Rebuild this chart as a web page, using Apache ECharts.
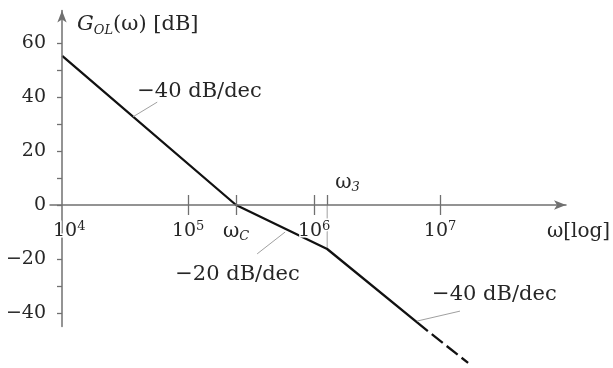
<!DOCTYPE html>
<html>
<head>
<meta charset="utf-8">
<script src="https://cdn.jsdelivr.net/npm/echarts@6/dist/echarts.min.js"></script>
<style>
  html, body { margin: 0; padding: 0; background: #fff; }
  #chart { width: 613px; height: 368px; }
</style>
</head>
<body>
<div id="chart"></div>
<script>
// Asymptotic open-loop magnitude: corner frequencies (rad/s) and gain (dB)
const omega = [1e4, 2.4e5, 1.27e6, 8.0e6];
const gainDb = [55.2, 0, -16.3, -46.7];
// continuation of the last asymptote, drawn dashed
const omegaExt = [8.0e6, 1.67e7];
const gainExt = [-46.7, -58.5];

const decades = [1e4, 1e5, 1e6, 1e7];
const gainLabels = [-40, -20, 0, 20, 40, 60];
const gainTicks = [-40, -30, -20, -10, 0, 10, 20, 30, 40, 50, 60];
const omegaC = omega[1];
const omega3 = omega[2];

// slope annotations: text anchor, leader start, leader end (omega, dB)
const slopeText = ['−40 dB/dec', '−20 dB/dec', '−40 dB/dec'];
const slopeTextAt = [[3.94e4, 42.0], [7.89e4, -25.7], [8.65e6, -33.3]];
const leaderFrom = [[3.66e4, 32.7], [5.89e5, -10.0], [6.56e6, -43.0]];
const leaderTo = [[5.68e4, 38.1], [3.53e5, -18.1], [1.44e7, -39.3]];

const X_MIN = 8000, X_MAX = 1e8;
const Y_MIN = -45, Y_MAX = 72;

// plot rectangle; both frequency axes are shifted onto the 0 dB line
const GRID = { left: 50, right: 47, top: 10.6, bottom: 41.5 };
const PLOT_H = 368 - GRID.top - GRID.bottom;
const ZERO_UP = (0 - Y_MIN) / (Y_MAX - Y_MIN) * PLOT_H;

const FONT = 'DejaVu Serif';
const INK = '#262626';
const AXIS = '#707070';
const LEADER = '#a0a0a0';

const richText = {
  n: { fontFamily: FONT, fontSize: 19, lineHeight: 23, color: INK },
  sup: { fontFamily: FONT, fontSize: 13, lineHeight: 13, verticalAlign: 'top', color: INK },
  w: { fontFamily: FONT, fontSize: 20, lineHeight: 23, color: INK },
  sub: { fontFamily: FONT, fontSize: 13, lineHeight: 12, fontStyle: 'italic', verticalAlign: 'bottom', color: INK },
  pad: { width: 14 }
};

function decadeLabel(v) {
  if (Math.abs(v - omegaC) / omegaC < 1e-6) return '{w|ω}{sub|C}';
  const e = Math.round(Math.log10(v));
  return (v === decades[0] ? '{pad|}' : '') + '{n|10}{sup|' + e + '}';
}

function gainLabel(v) {
  return v < 0 ? '−' + (-v) : String(v);
}

const chart = echarts.init(document.getElementById('chart'), null, { renderer: 'canvas' });

chart.setOption({
  animation: false,
  backgroundColor: '#fff',
  grid: Object.assign({ containLabel: false, outerBoundsMode: 'none' }, GRID),
  xAxis: [
    {
      type: 'log', logBase: 10, min: X_MIN, max: X_MAX, z: 5,
      position: 'bottom', offset: -ZERO_UP,
      name: 'ω[log]', nameLocation: 'end', nameGap: -19,
      nameTextStyle: { fontFamily: FONT, fontSize: 20, color: INK, align: 'left', verticalAlign: 'top', padding: [17, 0, 0, 0] },
      axisLine: { show: true, onZero: false, symbol: ['none', 'arrow'], symbolSize: [7, 12],
        lineStyle: { color: AXIS, width: 1.5 } },
      axisTick: { show: true, customValues: [decades[1], decades[2], decades[3], omegaC], length: 10,
        lineStyle: { color: AXIS, width: 1.3 } },
      axisLabel: { show: true, customValues: [decades[0], decades[1], decades[2], decades[3], omegaC],
        formatter: decadeLabel, rich: richText, margin: 15, fontFamily: FONT, color: INK,
        textBorderColor: '#fff', textBorderWidth: 3 },
      splitLine: { show: false }, minorTick: { show: false }
    },
    {
      type: 'log', logBase: 10, min: X_MIN, max: X_MAX, z: 5,
      position: 'top', offset: -(PLOT_H - ZERO_UP),
      axisLine: { show: false, onZero: false },
      axisTick: { show: true, customValues: [decades[1], decades[2], decades[3], omegaC, omega3], length: 10,
        lineStyle: { color: AXIS, width: 1.3 } },
      axisLabel: { show: true, customValues: [omega3], formatter: function () { return '{w|ω}{sub|3}'; },
        rich: richText, align: 'left', padding: [0, 0, 0, 8], margin: 11, fontFamily: FONT, color: INK },
      splitLine: { show: false }
    }
  ],
  yAxis: {
    type: 'value', min: Y_MIN, max: Y_MAX, offset: -12, z: 5,
    name: '{gi|G}{gs|OL}{t|(ω) [dB]}', nameLocation: 'end', nameGap: -1,
    nameTextStyle: {
      align: 'left', verticalAlign: 'top', padding: [0, 0, 0, 15], fontFamily: FONT, color: INK,
      rich: {
        gi: { fontFamily: FONT, fontSize: 21, fontStyle: 'italic', lineHeight: 26, color: INK },
        gs: { fontFamily: FONT, fontSize: 13, fontStyle: 'italic', lineHeight: 13, verticalAlign: 'bottom', color: INK },
        t: { fontFamily: FONT, fontSize: 21, lineHeight: 26, color: INK }
      }
    },
    axisLine: { show: true, onZero: false, symbol: ['none', 'arrow'], symbolSize: [7, 12],
      lineStyle: { color: AXIS, width: 1.5 } },
    axisTick: { show: true, customValues: gainTicks, length: 5, lineStyle: { color: AXIS, width: 1.3 } },
    axisLabel: { show: true, customValues: gainLabels, formatter: gainLabel, margin: 16,
      fontFamily: FONT, fontSize: 19, color: INK },
    splitLine: { show: false }
  },
  series: [
    {
      type: 'line', name: 'asymptote', clip: false, z: 3,
      data: omega.map(function (w, i) { return [w, gainDb[i]]; }),
      symbol: 'none', lineStyle: { color: '#111', width: 2.3 },
      markLine: {
        silent: true, symbol: ['none', 'none'], label: { show: false },
        lineStyle: { color: LEADER, width: 1, type: 'solid' },
        data: leaderFrom.map(function (p, i) { return [{ coord: p }, { coord: leaderTo[i] }]; })
      },
      markPoint: {
        silent: true, symbol: 'circle', symbolSize: 0,
        label: {
          show: true, position: [0, 0], align: 'left', verticalAlign: 'middle',
          fontFamily: FONT, fontSize: 21, color: INK,
          formatter: function (p) { return slopeText[p.dataIndex]; }
        },
        data: slopeTextAt.map(function (p) { return { coord: p }; })
      }
    },
    {
      type: 'line', name: 'extension', clip: false, z: 3,
      data: omegaExt.map(function (w, i) { return [w, gainExt[i]]; }),
      symbol: 'none', lineStyle: { color: '#111', width: 2.3, type: [14, 5], dashOffset: 14 }
    },
    {
      type: 'line', name: 'omega3 marker', clip: false, z: 2,
      data: [[omega3, gainDb[2]], [omega3, 0]],
      symbol: 'none', lineStyle: { color: LEADER, width: 1 }
    }
  ]
});
</script>
</body>
</html>
